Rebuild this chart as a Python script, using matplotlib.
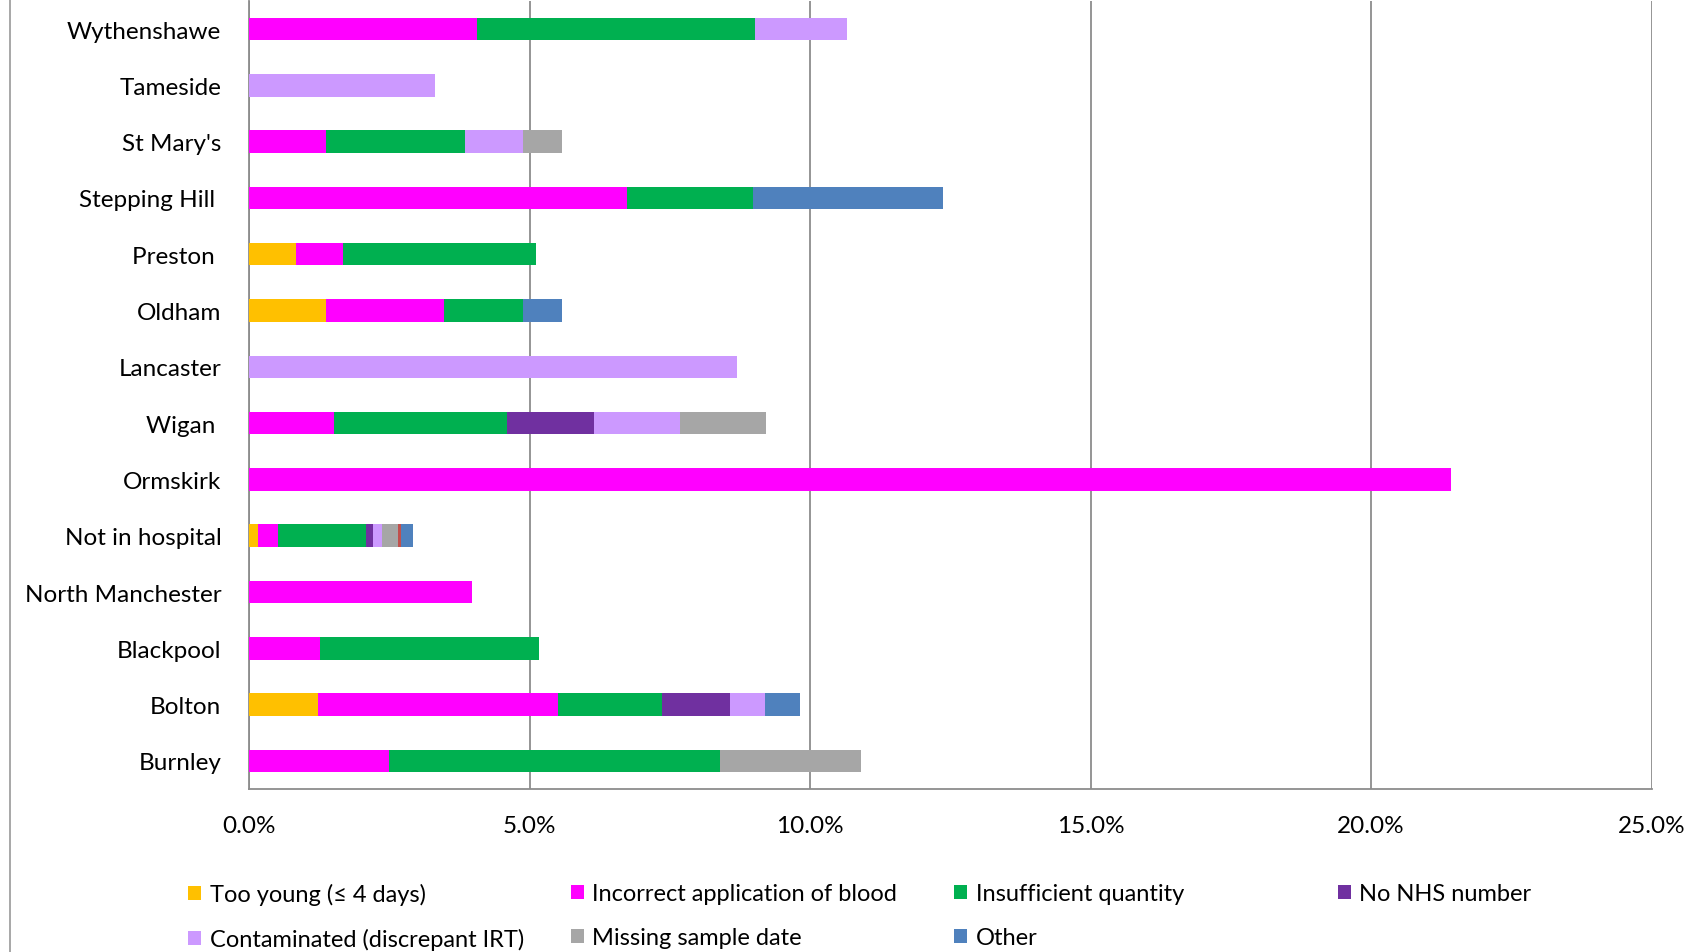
import numpy as np
import matplotlib.pyplot as plt
from matplotlib.lines import Line2D
from matplotlib.ticker import PercentFormatter

plt.rcParams['font.family'] = ['Lato', 'DejaVu Sans']

# hospitals, top to bottom
hospitals = ['Wythenshawe', 'Tameside', "St Mary's", 'Stepping Hill ', 'Preston ',
             'Oldham', 'Lancaster', 'Wigan ', 'Ormskirk', 'Not in hospital',
             'North Manchester', 'Blackpool', 'Bolton', 'Burnley']

# % of samples per reason
too_young    = [0, 0, 0, 0, 0.83, 1.37, 0, 0, 0, 0.16, 0, 0, 1.22, 0]
incorrect    = [4.07, 0, 1.37, 6.74, 0.85, 2.10, 0, 1.51, 21.43, 0.36, 3.98, 1.27, 4.29, 2.49]
insufficient = [4.94, 0, 2.47, 2.24, 3.44, 1.41, 0, 3.09, 0, 1.56, 0, 3.90, 1.85, 5.91]
no_nhs       = [0, 0, 0, 0, 0, 0, 0, 1.54, 0, 0.12, 0, 0, 1.22, 0]
contaminated = [1.64, 3.32, 1.04, 0, 0, 0, 8.69, 1.54, 0, 0.17, 0, 0, 0.62, 0]
missing_date = [0, 0, 0.70, 0, 0, 0, 0, 1.54, 0, 0.29, 0, 0, 0, 2.51]
unlabelled   = [0, 0, 0, 0, 0, 0, 0, 0, 0, 0.04, 0, 0, 0, 0]
other        = [0, 0, 0, 3.38, 0, 0.70, 0, 0, 0, 0.23, 0, 0, 0.62, 0]

series = [
    ('Too young (\u2264 4 days)', too_young, '#FFC000'),
    ('Incorrect application of blood', incorrect, '#FF00FF'),
    ('Insufficient quantity', insufficient, '#00B050'),
    ('No NHS number', no_nhs, '#7030A0'),
    ('Contaminated (discrepant IRT)', contaminated, '#CC99FF'),
    ('Missing sample date', missing_date, '#A6A6A6'),
    ('_unlabelled', unlabelled, '#C0504D'),
    ('Other', other, '#4F81BD'),
]

fig = plt.figure(figsize=(16.98, 9.53), dpi=100)
ax = fig.add_axes([0.1467, 0.171, 0.826, 0.827])

y = np.arange(len(hospitals))
left = np.zeros(len(hospitals))
handles = {}
for name, vals, col in series:
    vals = np.array(vals)
    b = ax.barh(y, vals, left=left, height=0.4, color=col, linewidth=0, zorder=3)
    handles[name] = b
    left += vals

ax.set_ylim(len(hospitals) - 0.5, -0.5)
ax.set_yticks(y)
ax.set_yticklabels(hospitals, fontsize=17.5)
ax.set_xlim(0, 25)
ax.set_xticks(np.arange(0, 26, 5))
ax.xaxis.set_major_formatter(PercentFormatter(decimals=1))
ax.tick_params(axis='x', length=0, pad=19, labelsize=17.5)
ax.tick_params(axis='y', length=0, pad=20)
ax.grid(axis='x', color='#8c8c8c', linewidth=1.3, zorder=0)

for s in ['top', 'right']:
    ax.spines[s].set_visible(False)
for s in ['left', 'bottom']:
    ax.spines[s].set_color('#8c8c8c')
    ax.spines[s].set_linewidth(1.3)

# chart border on the left
fig.add_artist(Line2D([0.006, 0.006], [0, 1], color='#a0a0a0', lw=1.3))

# legend: 4 equal columns, 2 rows
cols = [
    ['Too young (\u2264 4 days)', 'Contaminated (discrepant IRT)'],
    ['Incorrect application of blood', 'Missing sample date'],
    ['Insufficient quantity', 'Other'],
    ['No NHS number'],
]
col_x = [0.111, 0.336, 0.562, 0.788]
for cx, names in zip(col_x, cols):
    fig.legend([handles[n] for n in names], names, loc='upper left',
               bbox_to_anchor=(cx, 0.072), frameon=False, fontsize=17,
               handlelength=0.55, handleheight=0.55, handletextpad=0.35,
               labelspacing=0.97, borderpad=0, borderaxespad=0)

fig.savefig('out.png', dpi=100)
